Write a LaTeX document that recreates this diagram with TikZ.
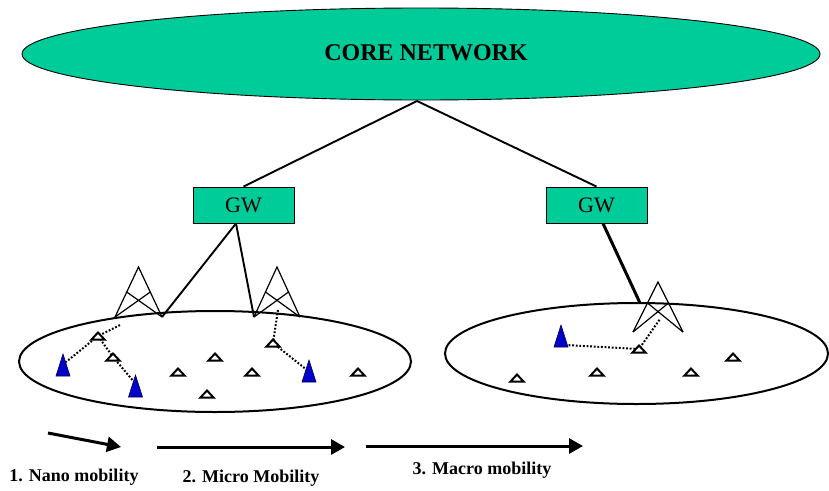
\documentclass[tikz,border=0pt]{standalone}
\usepackage{fontspec}
\setmainfont{Liberation Serif}
\usetikzlibrary{shapes.geometric,arrows.meta,calc}
\definecolor{teal1}{HTML}{00CC99}
\definecolor{mblue}{HTML}{0000C8}
\tikzset{
  cloud/.style={ellipse, draw=black, line width=2pt, inner sep=0pt},
  gwbox/.style={rectangle, draw=black, line width=0.9pt, fill=teal1, minimum width=101pt, minimum height=36pt, inner sep=0pt, font=\fontsize{22}{24}\selectfont},
  link/.style={line width=1.9pt, black},
  thicklink/.style={line width=3pt, black},
  towerline/.style={line width=1.2pt, black},
  dots/.style={line width=2pt, dash pattern=on 1.8pt off 1.8pt},
  mnode/.style={draw=black, line width=2pt, fill=white, line join=miter},
  bnode/.style={draw=black!70!blue, line width=0.6pt, fill=mblue},
  mobarrow/.style={line width=3pt, -{Triangle[length=14pt,width=15pt]}},
  lab/.style={font=\fontsize{18}{20}\selectfont\bfseries, inner sep=0pt}
}
\newcommand{\hollowtri}[3]{%
  \coordinate (#1) at (#2,#3);
  \draw[mnode] ($(#1)+(-6.5,3.5)$) -- ($(#1)+(0,-3.5)$) -- ($(#1)+(6.5,3.5)$) -- cycle;}
\newcommand{\bluetri}[3]{%
  \coordinate (#1) at (#2,#3);
  \draw[bnode] ($(#1)+(-7,10)$) -- ($(#1)+(0,-12)$) -- ($(#1)+(7,10)$) -- cycle;}
% tower: name, apex x, apex y, half width, height, cross fraction
\newcommand{\tower}[6]{%
  \coordinate (#1top) at (#2,#3);
  \coordinate (#1lf) at ($(#1top)+(-#4,#5)$);
  \coordinate (#1rf) at ($(#1top)+(#4,#5)$);
  \coordinate (#1lc) at ($(#1top)!#6!(#1lf)$);
  \coordinate (#1rc) at ($(#1top)!#6!(#1rf)$);
  \draw[towerline] (#1lf) -- (#1top) -- (#1rf);
  \draw[towerline] (#1lf) -- (#1rc);
  \draw[towerline] (#1rf) -- (#1lc);}
\begin{document}
\begin{tikzpicture}[x=1pt,y=-1pt]
\useasboundingbox (0,0) rectangle (829,490);

% core network
\node[cloud, fill=teal1, line width=0.9pt, minimum width=798pt, minimum height=92pt] (core) at (421,54) {};
\node[font=\fontsize{24}{26}\selectfont\bfseries] (coretext) at (426,53) {CORE NETWORK};

% gateways
\node[gwbox] (gw1) at (243.5,205) {GW};
\node[gwbox] (gw2) at (596.5,205) {GW};

% access areas
\node[cloud, minimum width=392pt, minimum height=101pt] (area1) at (215,361.5) {};
\node[cloud, minimum width=383pt, minimum height=101pt] (area2) at (636.5,353.5) {};

% towers
\tower{ta}{138.5}{267}{23.5}{50}{0.5}
\tower{tb}{277}{267}{23}{50}{0.5}
\tower{tc}{658}{282}{25}{50}{0.42}

% core links
\coordinate (coreb) at (417,101);
\draw[link] (coreb) -- (gw1.north);
\draw[link] (coreb) -- (gw2.north);

% gateway links
\coordinate (gw1b) at ($(gw1.south)+(-7.5,0)$);
\coordinate (gw2b) at ($(gw2.south)+(6.5,0)$);
\draw[link] (gw1b) -- (tarf);
\draw[link] (gw1b) -- (tblf);
\coordinate (tcfeed) at (640,303);
\draw[thicklink] (gw2b) -- (tcfeed);

% dotted radio links (drawn before terminals)
\coordinate (tad) at (120,325);
\coordinate (tbd) at (278,310);
\coordinate (tcd) at (660,319);
\coordinate (a1) at (98,336);
\coordinate (a2) at (113,357);
\coordinate (a7) at (273,343);
\coordinate (r1) at (639,349);
\coordinate (b1c) at (66,362);
\coordinate (b2c) at (135,383);
\coordinate (b3c) at (307,370);
\coordinate (b4c) at (565,345);
\draw[dots] (tad) -- (a1) -- (b1c);
\draw[dots] (a1) -- (a2) -- (b2c);
\draw[dots] (tbd) -- (a7) -- (b3c);
\draw[dots] (b4c) -- (r1) -- (tcd);

% terminals, left area
\hollowtri{m1}{98}{336}
\hollowtri{m2}{113}{357}
\hollowtri{m3}{215}{357}
\hollowtri{m4}{178}{372}
\hollowtri{m5}{252}{372}
\hollowtri{m6}{207}{394}
\hollowtri{m7}{273}{343}
\hollowtri{m8}{358}{372}
\bluetri{b1}{63}{366}
\bluetri{b2}{135.5}{387}
\bluetri{b3}{309}{372}
% terminals, right area
\hollowtri{n1}{639}{349}
\hollowtri{n2}{733}{357}
\hollowtri{n3}{597}{372}
\hollowtri{n4}{691}{372}
\hollowtri{n5}{517}{378}
\bluetri{b4}{561}{337}

% mobility arrows
\coordinate (p1s) at (48,433);
\coordinate (p1e) at (121,447);
\coordinate (p2s) at (157,447);
\coordinate (p2e) at (345,447);
\coordinate (p3s) at (366,446);
\coordinate (p3e) at (583,446);
\draw[mobarrow] (p1s) -- (p1e);
\draw[mobarrow] (p2s) -- (p2e);
\draw[mobarrow] (p3s) -- (p3e);

\node[lab] (l1) at (74,477) {1. Nano mobility};
\node[lab] (l2) at (251,478) {2. Micro Mobility};
\node[lab] (l3) at (482,470) {3. Macro mobility};
\end{tikzpicture}
\end{document}
